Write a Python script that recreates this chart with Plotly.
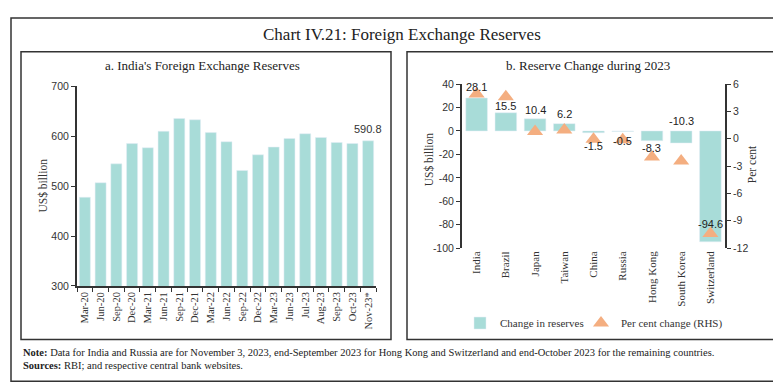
import plotly.graph_objects as go

# ---------------- data ----------------
months = ["Mar-20", "Jun-20", "Sep-20", "Dec-20", "Mar-21", "Jun-21", "Sep-21", "Dec-21",
          "Mar-22", "Jun-22", "Sep-22", "Dec-22", "Mar-23", "Jun-23", "Jul-23", "Aug-23",
          "Sep-23", "Oct-23", "Nov-23*"]
reserves = [477.8, 506.8, 544.7, 585.3, 577.0, 610.0, 635.5, 633.0,
            607.3, 589.0, 531.5, 562.8, 578.4, 595.5, 605.0, 597.5,
            587.5, 585.5, 590.8]

countries = ["India", "Brazil", "Japan", "Taiwan", "China", "Russia",
             "Hong Kong", "South Korea", "Switzerland"]
change_bn = [28.1, 15.5, 10.4, 6.2, -1.5, -0.5, -8.3, -10.3, -94.6]
change_pct = [4.9, 4.6, 0.8, 0.95, -0.05, -0.1, -2.0, -2.45, -10.4]

left_ticks = [300, 400, 500, 600, 700]
right_ticks = [40, 20, 0, -20, -40, -60, -80, -100]
pct_ticks = [6, 3, 0, -3, -6, -9, -12]

# label offsets (px) for the right-panel data labels
label_shift = [11, 7, 9, 10, -13, -9, -7, 22, 18]

W, H = 781, 384
def px(x):
    return x / W
def py(y):
    return 1 - y / H

TEAL = "#A8DCD8"
ORANGE = "#F4AE80"
AX = "#333333"
TXT = "#333333"
SERIF = "Liberation Serif"
SANS = "Liberation Sans"

fig = go.Figure()

fig.add_trace(go.Bar(x=months, y=reserves, marker_color=TEAL, xaxis="x", yaxis="y",
                     width=0.7, showlegend=False))

fig.add_trace(go.Bar(x=countries, y=change_bn, marker_color=TEAL, xaxis="x2", yaxis="y2",
                     width=0.74, name="Change in reserves", showlegend=True, legend="legend"))
fig.add_trace(go.Scatter(x=countries, y=change_pct, mode="markers", xaxis="x2", yaxis="y3",
                         marker=dict(symbol="triangle-up", size=14, color=ORANGE),
                         name="Per cent change (RHS)", showlegend=True, legend="legend2"))

y2_range = [-100, 40]
y2_dom = [py(241.7), py(72.3)]
zero_pos = y2_dom[0] + (0 - y2_range[0]) / (y2_range[1] - y2_range[0]) * (y2_dom[1] - y2_dom[0])

tickfont = dict(family=SANS, size=10.5, color=TXT)
legfont = dict(family=SERIF, size=11, color=TXT)

fig.update_layout(
    width=W, height=H,
    margin=dict(l=0, r=0, t=0, b=0),
    paper_bgcolor="white", plot_bgcolor="white",
    font=dict(family=SERIF, size=11, color=TXT),
    xaxis=dict(domain=[px(69), px(368)], anchor="y", type="category",
               range=[-0.5, len(months) - 0.5],
               showline=True, linecolor=AX, linewidth=2,
               ticks="outside", tickson="boundaries", ticklen=4, tickcolor=AX,
               tickangle=-90, tickfont=dict(family=SERIF, size=10.5, color=TXT),
               showgrid=False),
    yaxis=dict(domain=[py(280.7), py(74.7)], anchor="x", range=[300, 700],
               tickmode="array", tickvals=left_ticks, ticktext=[str(v) for v in left_ticks],
               showline=True, linecolor=AX, linewidth=2,
               ticks="outside", ticklen=4, tickcolor=AX, tickfont=tickfont,
               showgrid=False, zeroline=False),
    xaxis2=dict(domain=[px(454), px(717)], anchor="y2", type="category",
                range=[-0.5, len(countries) - 0.5],
                showline=False, ticks="", tickangle=-90,
                tickfont=dict(family=SERIF, size=11, color=TXT), showgrid=False),
    xaxis3=dict(domain=[px(454), px(717)], anchor="free", position=zero_pos,
                overlaying="x2", range=[-0.5, len(countries) - 0.5],
                tickmode="array", tickvals=[i - 0.5 for i in range(len(countries) + 1)],
                showticklabels=False, ticks="outside", ticklen=4, tickcolor=AX,
                showline=True, linecolor="#111111", linewidth=2, showgrid=False,
                zeroline=False),
    yaxis2=dict(domain=y2_dom, anchor="x2", range=y2_range,
                tickmode="array", tickvals=right_ticks, ticktext=[str(v) for v in right_ticks],
                showline=True, linecolor=AX, linewidth=2,
                ticks="outside", ticklen=4, tickcolor=AX, tickfont=tickfont,
                showgrid=False, zeroline=False),
    yaxis3=dict(domain=y2_dom, anchor="x2", overlaying="y2", side="right",
                range=[-12, 6],
                tickmode="array", tickvals=pct_ticks, ticktext=[str(v) for v in pct_ticks],
                showline=True, linecolor=AX, linewidth=2,
                ticks="outside", ticklen=4, tickcolor=AX, tickfont=tickfont,
                showgrid=False, zeroline=False),
    legend=dict(orientation="h", x=px(452), xanchor="left", y=py(319), yanchor="middle",
                font=legfont, bgcolor="rgba(0,0,0,0)", itemwidth=30),
    legend2=dict(orientation="h", x=px(573), xanchor="left", y=py(319), yanchor="middle",
                 font=legfont, bgcolor="rgba(0,0,0,0)", itemwidth=30),
)

shapes = [
    dict(type="rect", xref="paper", yref="paper", x0=px(3), x1=px(777), y0=py(379), y1=py(4),
         line=dict(color="#333333", width=1.5)),
    dict(type="rect", xref="paper", yref="paper", x0=px(13), x1=px(383), y0=py(336), y1=py(39),
         line=dict(color="#333333", width=1.5)),
    dict(type="rect", xref="paper", yref="paper", x0=px(399), x1=px(767), y0=py(336), y1=py(39),
         line=dict(color="#333333", width=1.5)),
]
fig.update_layout(shapes=shapes)

ann = [
    dict(text="Chart IV.21: Foreign Exchange Reserves", x=px(394), y=py(21),
         font=dict(family=SERIF, size=17, color="#222222")),
    dict(text="a. India's Foreign Exchange Reserves", x=px(194), y=py(53),
         font=dict(family=SERIF, size=13, color="#222222")),
    dict(text="b. Reserve Change during 2023", x=px(580), y=py(53),
         font=dict(family=SERIF, size=13, color="#222222")),
    dict(text="US$ billion", x=px(35), y=py(177), textangle=-90,
         font=dict(family=SERIF, size=11.5, color=TXT)),
    dict(text="US$ billion", x=px(421), y=py(150), textangle=-90,
         font=dict(family=SERIF, size=11.5, color=TXT)),
    dict(text="Per cent", x=px(744), y=py(155), textangle=-90,
         font=dict(family=SERIF, size=11.5, color=TXT)),
    dict(text="<b>Note:</b> Data for India and Russia are for November 3, 2023, end-September 2023 for Hong Kong and Switzerland and end-October 2023 for the remaining countries.",
         x=px(13), y=py(349), xanchor="left", font=dict(family=SERIF, size=10.5, color="#222222")),
    dict(text="<b>Sources:</b> RBI; and respective central bank websites.",
         x=px(13), y=py(363), xanchor="left", font=dict(family=SERIF, size=10.5, color="#222222")),
]
for a in ann:
    a.update(xref="paper", yref="paper", showarrow=False)
    a.setdefault("xanchor", "center")
    a["yanchor"] = "middle"
fig.update_layout(annotations=ann)

fig.add_annotation(x=months[-1], y=reserves[-1], xref="x", yref="y", text=f"{reserves[-1]}",
                   showarrow=False, yshift=12, font=dict(family=SANS, size=11, color=TXT))
for c, v, s in zip(countries, change_bn, label_shift):
    fig.add_annotation(x=c, y=v, xref="x2", yref="y2", text=f"{v}", showarrow=False,
                       yshift=s, font=dict(family=SANS, size=11, color="#222222"))

fig.write_html("out.html")
